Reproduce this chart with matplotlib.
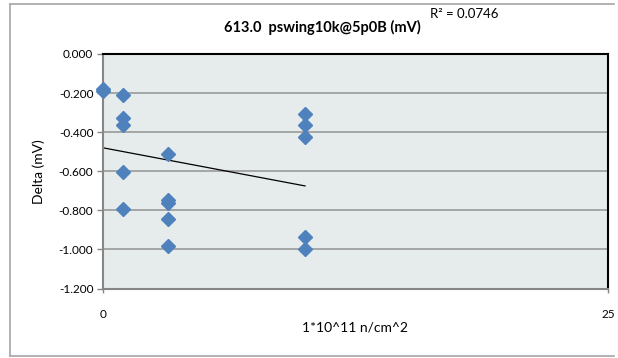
import matplotlib
matplotlib.use("Agg")
import matplotlib.pyplot as plt
import numpy as np
from matplotlib.lines import Line2D

# Data
x_vals = [0, 0, 1, 1, 1, 1, 1, 3.2, 3.2, 3.2, 3.2, 3.2, 10, 10, 10, 10, 10]
delta_mv = [-0.181, -0.187, -0.209, -0.329, -0.363, -0.604, -0.792,
            -0.512, -0.747, -0.763, -0.844, -0.982,
            -0.308, -0.363, -0.427, -0.938, -0.996]
y_ticks = [0.0, -0.2, -0.4, -0.6, -0.8, -1.0, -1.2]
y_tick_labels = ["0.000", "-0.200", "-0.400", "-0.600", "-0.800", "-1.000", "-1.200"]
x_ticks = [0, 25]
x_tick_labels = ["0", "25"]
title = "613.0  pswing10k@5p0B (mV)"
r2_label = "R² = 0.0746"
xlabel = "1*10^11 n/cm^2"
ylabel = "Delta (mV)"

plt.rcParams['font.family'] = ['Lato', 'DejaVu Sans']

W, H = 618, 358
fig = plt.figure(figsize=(W / 100, H / 100), dpi=100)
fig.patch.set_facecolor('white')

ax = fig.add_axes([103 / W, 1 - 288.5 / H, 505 / W, 234.5 / H])
ax.set_facecolor('#E6ECEC')

ax.set_xlim(0, 25)
ax.set_ylim(-1.2, 0.0)
ax.set_yticks(y_ticks)
ax.set_yticklabels(y_tick_labels, fontsize=8.5)
ax.set_xticks(x_ticks)
ax.set_xticklabels(x_tick_labels, fontsize=8.5)
ax.tick_params(axis='y', length=4, width=1, color='#868686', pad=3)
ax.tick_params(axis='x', length=3, width=1, color='#868686', pad=12)

for y in y_ticks[1:-1]:
    ax.axhline(y, color='#A0A0A0', lw=1.3, zorder=1)

# trendline
xs = np.array(x_vals, dtype=float)
ys = np.array(delta_mv, dtype=float)
m, b = np.polyfit(xs, ys, 1)
tx = np.array([xs.min(), xs.max()])
ax.plot(tx, m * tx + b, color='black', lw=0.9, zorder=2)

ax.plot(xs, ys, linestyle='none', marker='D', markersize=7.5,
        color='#4F81BD', markeredgecolor='#4F81BD', zorder=3, clip_on=False)

for s in ['top', 'right']:
    ax.spines[s].set_color('black')
    ax.spines[s].set_linewidth(1.5)
for s in ['left', 'bottom']:
    ax.spines[s].set_color('#868686')
    ax.spines[s].set_linewidth(1.5)

ax.set_ylabel(ylabel, fontsize=10, labelpad=10)
fig.text(355 / W, 1 - 328 / H, xlabel, fontsize=10, ha='center', va='center')
fig.text(322 / W, 1 - 27 / H, title, fontsize=10.5, fontweight='bold', ha='center', va='center')
fig.text(430 / W, 1 - 14 / H, r2_label, fontsize=9.5, ha='left', va='center')

# outer chart border
bc = '#A6A6A6'
fig.add_artist(Line2D([10 / W, 614 / W], [1 - 4 / H, 1 - 4 / H], color=bc, lw=1.2, transform=fig.transFigure))
fig.add_artist(Line2D([10 / W, 10 / W], [1 - 4 / H, 1 - 356 / H], color=bc, lw=1.2, transform=fig.transFigure))
fig.add_artist(Line2D([10 / W, 614 / W], [1 - 356 / H, 1 - 356 / H], color=bc, lw=1.2, transform=fig.transFigure))

fig.savefig('out.png', dpi=100)
